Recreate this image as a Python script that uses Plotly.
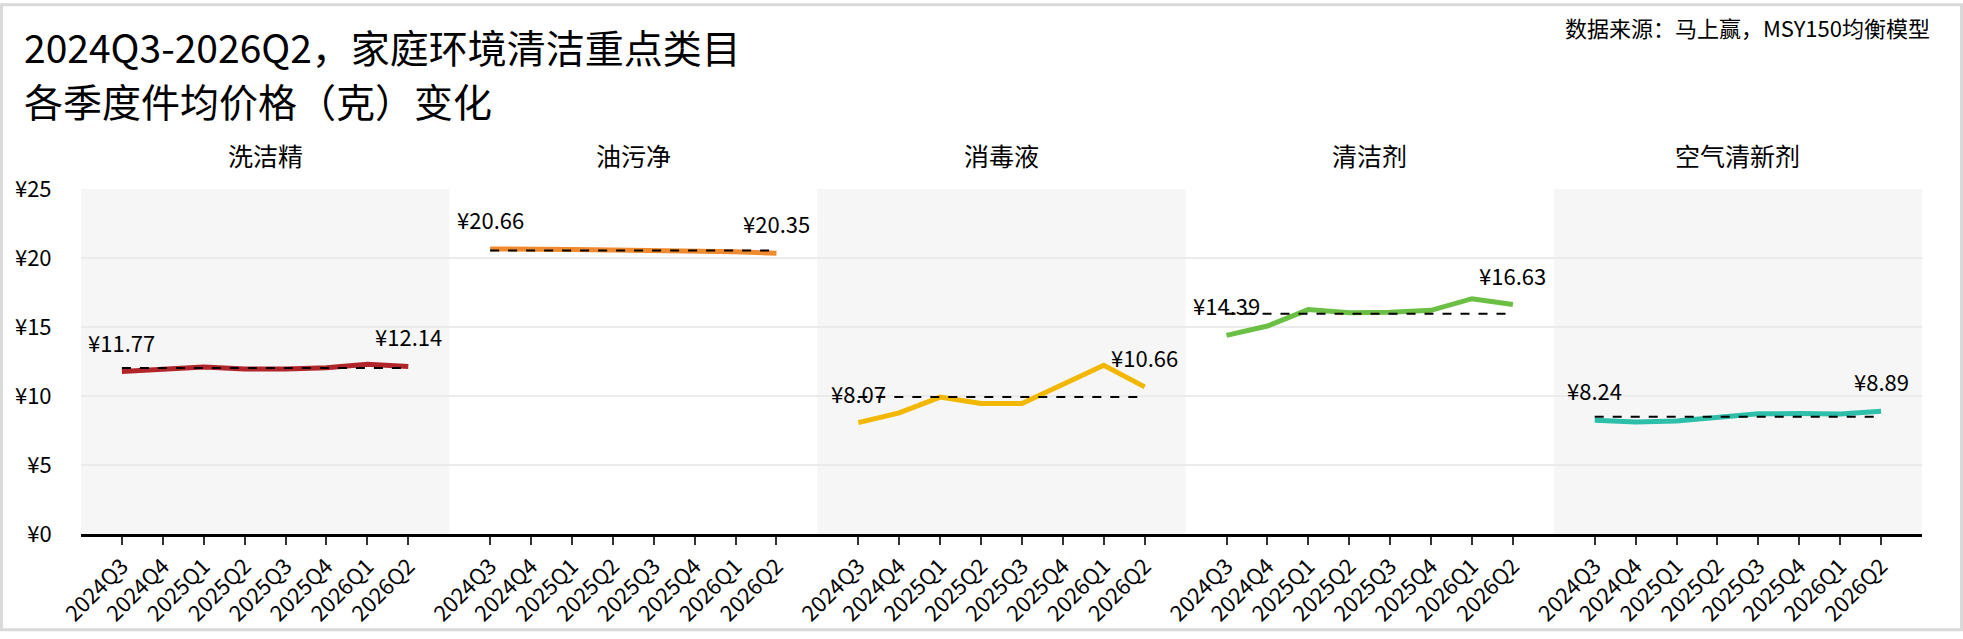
import plotly.graph_objects as go
from plotly.subplots import make_subplots

# Data
quarters = ["2024Q3", "2024Q4", "2025Q1", "2025Q2", "2025Q3", "2025Q4", "2026Q1", "2026Q2"]
categories = ["洗洁精", "油污净", "消毒液", "清洁剂", "空气清新剂"]

price_xjj = [11.77, 11.90, 12.10, 11.95, 11.95, 12.05, 12.30, 12.14]
price_ywj = [20.66, 20.60, 20.62, 20.58, 20.56, 20.55, 20.45, 20.35]
price_xdy = [8.07, 8.78, 9.92, 9.45, 9.45, 10.80, 12.23, 10.66]
price_qjj = [14.39, 15.07, 16.26, 16.03, 16.06, 16.21, 17.05, 16.63]
price_kqqxj = [8.24, 8.12, 8.19, 8.43, 8.71, 8.73, 8.69, 8.89]

series = [price_xjj, price_ywj, price_xdy, price_qjj, price_kqqxj]
colors = ["#b0242a", "#f08a2e", "#f2b700", "#6cbf45", "#2ebfaa"]

y_ticks = [0, 5, 10, 15, 20, 25]
y_ticktext = ["¥0", "¥5", "¥10", "¥15", "¥20", "¥25"]

FONT = "Noto Sans CJK SC"

fig = make_subplots(rows=1, cols=5, shared_yaxes=True, horizontal_spacing=0,
                    subplot_titles=categories)

for i, (vals, col) in enumerate(zip(series, colors)):
    c = i + 1
    mean_v = sum(vals) / len(vals)
    # main line
    fig.add_trace(go.Scatter(x=quarters, y=vals, mode="lines",
                             line=dict(color=col, width=5),
                             showlegend=False, hoverinfo="x+y"), row=1, col=c)
    # average dashed line
    fig.add_trace(go.Scatter(x=[quarters[0], quarters[-1]], y=[mean_v, mean_v], mode="lines",
                             line=dict(color="black", width=2, dash="dash"),
                             showlegend=False, hoverinfo="skip"), row=1, col=c)
    # first / last value labels
    xref = "x" if c == 1 else f"x{c}"
    yref = "y" if c == 1 else f"y{c}"
    for idx in (0, -1):
        fig.add_annotation(x=quarters[idx], y=vals[idx], xref=xref, yref=yref,
                           text=f"¥{vals[idx]:.2f}", showarrow=False, yshift=30,
                           font=dict(size=22, color="black", family=FONT))
    # alternating panel background
    if i % 2 == 0:
        fig.add_shape(type="rect", xref=f"{xref} domain", yref=f"{yref} domain",
                      x0=0, x1=1, y0=0, y1=1, fillcolor="#f6f6f6",
                      line_width=0, layer="below")

fig.update_xaxes(type="category", range=[-1, 8], showline=True, linecolor="black",
                 linewidth=2.5, ticks="outside", ticklen=8, tickwidth=2, tickcolor="#333",
                 tickangle=-45, showgrid=False, zeroline=False,
                 tickfont=dict(size=22, color="black", family=FONT))
fig.update_yaxes(range=[0, 25], tickmode="array", tickvals=y_ticks, ticktext=y_ticktext,
                 showgrid=True, gridcolor="#ebebeb", gridwidth=2, zeroline=False, showline=False,
                 ticks="outside", ticklen=24, tickcolor="rgba(0,0,0,0)",
                 tickfont=dict(size=22, color="black", family=FONT))

# subplot titles
for ann in fig.layout.annotations[:5]:
    ann.font = dict(size=25, color="black", family=FONT)
    ann.yshift = 14

W, H = 1963, 639
ml, mr, mt, mb = 81, 41, 189, 99
pw, ph = W - ml - mr, H - mt - mb

fig.add_annotation(text="2024Q3-2026Q2，家庭环境清洁重点类目", xref="paper", yref="paper",
                   x=(22 - ml) / pw, y=(H - mb - 44) / ph, xanchor="left", yanchor="middle",
                   showarrow=False, font=dict(size=39, color="black", family=FONT))
fig.add_annotation(text="各季度件均价格（克）变化", xref="paper", yref="paper",
                   x=(22 - ml) / pw, y=(H - mb - 98) / ph, xanchor="left", yanchor="middle",
                   showarrow=False, font=dict(size=39, color="black", family=FONT))
fig.add_annotation(text="数据来源：马上赢，MSY150均衡模型", xref="paper", yref="paper",
                   x=(1932 - ml) / pw, y=(H - mb - 24) / ph, xanchor="right", yanchor="middle",
                   showarrow=False, font=dict(size=22, color="black", family=FONT))

# outer light-gray frame
fig.add_shape(type="rect", xref="paper", yref="paper",
              x0=(1.5 - ml) / pw, x1=(W - 1.5 - ml) / pw,
              y0=-(mb - 1.5) / ph, y1=(H - mb - 1.5) / ph,
              line=dict(color="#d9d9d9", width=3), fillcolor="rgba(0,0,0,0)")

fig.update_layout(width=W, height=H, margin=dict(l=ml, r=mr, t=mt, b=mb),
                  plot_bgcolor="white", paper_bgcolor="white",
                  font=dict(family=FONT, color="black"), showlegend=False)

fig.write_html("out.html", config={"displayModeBar": False},
               post_script="document.body.style.margin='0';")
